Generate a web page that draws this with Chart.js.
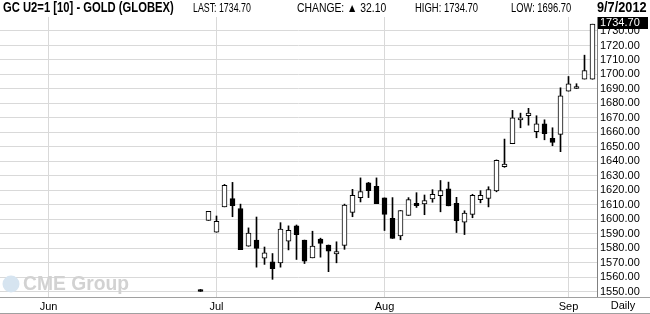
<!DOCTYPE html>
<html>
<head>
<meta charset="utf-8">
<script src="https://cdn.jsdelivr.net/npm/chart.js@4/dist/chart.umd.min.js"></script>
<style>
  body { margin: 0; background: #fff; }
  #wrap { position: relative; width: 650px; height: 314px; overflow: hidden; }
  #chart { position: absolute; left: 0; top: 0; }
  .hd { position: absolute; top: 1px; font-family: "Liberation Sans", Arial, sans-serif; font-size: 12px;
        line-height: 15px; white-space: nowrap; transform-origin: 0 0; color: #000; }
  .hd.b { font-weight: bold; font-size: 14px; top: 0; }
</style>
</head>
<body>
<div id="wrap">
  <canvas id="chart" width="650" height="314"></canvas>
  <span class="hd b" id="hTitle"></span>
  <span class="hd" id="hLast"></span>
  <span class="hd" id="hChange"></span>
  <span class="hd" id="hHigh"></span>
  <span class="hd" id="hLow"></span>
  <span class="hd b" id="hDate"></span>
</div>
<script>
"use strict";

// trading sessions on the axis (Jun 1 .. Sep 7 2012)
const sessions = [
    "6/1", "6/4", "6/5", "6/6", "6/7", "6/8", "6/11", "6/12", "6/13", "6/14", "6/15",
    "6/18", "6/19", "6/20", "6/21", "6/22", "6/25", "6/26", "6/27", "6/28", "6/29",
    "7/2", "7/3", "7/5", "7/6", "7/9", "7/10", "7/11", "7/12", "7/13",
    "7/16", "7/17", "7/18", "7/19", "7/20", "7/23", "7/24", "7/25", "7/26", "7/27",
    "7/30", "7/31",
    "8/1", "8/2", "8/3", "8/6", "8/7", "8/8", "8/9", "8/10", "8/13", "8/14", "8/15",
    "8/16", "8/17", "8/20", "8/21", "8/22", "8/23", "8/24", "8/27", "8/28", "8/29",
    "8/30", "8/31",
    "9/4", "9/5", "9/6", "9/7"
];

const monthLabels = ["Jun", "Jul", "Aug", "Sep"];
const monthFirstDays = ["6/1", "7/2", "8/1", "9/4"];
const priceTicks = [1550, 1560, 1570, 1580, 1590, 1600, 1610, 1620, 1630, 1640,
    1650, 1660, 1670, 1680, 1690, 1700, 1710, 1720, 1730];

// candles
const dates = [
    "6/28", "6/29", "7/2", "7/3", "7/5", "7/6", "7/9", "7/10", "7/11", "7/12", "7/13",
    "7/16", "7/17", "7/18", "7/19", "7/20", "7/23", "7/24", "7/25", "7/26", "7/27",
    "7/30", "7/31", "8/1", "8/2", "8/3", "8/6", "8/7", "8/8", "8/9", "8/10",
    "8/13", "8/14", "8/15", "8/16", "8/17", "8/20", "8/21", "8/22", "8/23", "8/24",
    "8/27", "8/28", "8/29", "8/30", "8/31", "9/4", "9/5", "9/6", "9/7"
];
const opens = [
    1551.6, 1599.3, 1591.1, 1608.6, 1614.3, 1607.5, 1581.4, 1585.7, 1573.2, 1570.7, 1570.0,
    1585.0, 1595.5, 1585.7, 1573.4, 1586.4, 1582.3, 1576.1, 1582.0, 1604.8, 1615.0,
    1625.2, 1622.7, 1614.8, 1600.7, 1588.6, 1602.7, 1611.1, 1610.7, 1614.1, 1616.4,
    1621.1, 1611.1, 1598.0, 1603.4, 1613.6, 1614.4, 1619.6, 1636.3, 1652.2, 1668.7,
    1671.5, 1660.5, 1666.0, 1655.9, 1658.6, 1688.5, 1690.3, 1696.8, 1696.7
];
const highs = [
    1551.6, 1605.5, 1602.3, 1624.1, 1625.5, 1610.5, 1594.1, 1601.6, 1580.9, 1576.4, 1597.7,
    1595.5, 1596.1, 1585.7, 1591.8, 1587.0, 1582.3, 1584.5, 1610.5, 1620.7, 1628.6,
    1625.5, 1628.6, 1614.8, 1615.0, 1606.1, 1615.0, 1618.4, 1616.8, 1620.5, 1626.8,
    1625.7, 1615.2, 1605.9, 1617.3, 1619.8, 1622.5, 1641.0, 1655.4, 1675.2, 1673.3,
    1676.6, 1671.5, 1668.7, 1663.2, 1690.8, 1698.6, 1693.6, 1713.3, 1734.7
];
const lows = [
    1550.3, 1599.3, 1591.1, 1608.6, 1601.8, 1579.1, 1581.4, 1567.0, 1568.9, 1558.6, 1567.0,
    1578.9, 1572.3, 1569.5, 1573.4, 1573.9, 1563.9, 1570.0, 1579.3, 1601.8, 1612.0,
    1615.0, 1610.9, 1592.3, 1586.8, 1585.9, 1602.7, 1608.2, 1603.2, 1611.8, 1605.2,
    1609.3, 1590.9, 1589.5, 1601.1, 1611.4, 1608.6, 1619.0, 1635.9, 1652.2, 1663.2,
    1665.0, 1656.3, 1654.9, 1650.8, 1646.7, 1688.5, 1690.3, 1696.8, 1696.7
];
const closes = [
    1550.3, 1605.5, 1598.6, 1623.4, 1609.5, 1579.1, 1590.5, 1580.0, 1576.8, 1565.9, 1593.2,
    1592.5, 1589.5, 1571.1, 1581.6, 1583.4, 1578.0, 1577.7, 1609.8, 1616.6, 1619.1,
    1619.8, 1610.9, 1603.4, 1586.8, 1606.1, 1613.6, 1609.5, 1613.0, 1617.3, 1619.8,
    1609.3, 1599.1, 1604.3, 1616.6, 1616.6, 1620.6, 1640.8, 1638.2, 1670.1, 1670.1,
    1673.3, 1666.0, 1659.1, 1653.1, 1685.3, 1693.6, 1691.7, 1702.6, 1734.7
];

const FONT = '"Liberation Sans", Arial, sans-serif';
const GRID = "#d9d9d9";
const last = closes.length - 1;

// header texts
function fit(id, text, left, width) {
    const el = document.getElementById(id);
    el.textContent = text;
    el.style.left = left + "px";
    el.style.transform = "scaleX(" + width / el.offsetWidth + ")";
}
fit("hTitle", "GC U2=1 [10] - GOLD (GLOBEX)", 3, 171);
fit("hLast", "LAST: " + closes[last].toFixed(2), 193, 58);
fit("hChange", "CHANGE: \u25B2 " + (closes[last] - closes[last - 1]).toFixed(2), 297, 89);
fit("hHigh", "HIGH: " + highs[last].toFixed(2), 415, 63);
fit("hLow", "LOW: " + lows[last].toFixed(2), 511, 60);
fit("hDate", "9/7/2012", 597, 50);

const decor = {
    id: "decor",
    beforeDatasetsDraw(chart) {
        const c = chart.ctx;
        const b = chart.chartArea.bottom;
        c.save();
        // CME Group watermark
        c.fillStyle = "#d6e4f0";
        c.beginPath();
        c.arc(11, b - 13, 8.5, 0, Math.PI * 2);
        c.fill();
        c.fillStyle = "#d2d2d2";
        c.font = "bold 20px " + FONT;
        c.textBaseline = "alphabetic";
        const w = c.measureText("CME Group").width;
        c.translate(23, b - 7);
        c.scale(106 / w, 1);
        c.fillText("CME Group", 0, 0);
        c.restore();
    },
    afterDraw(chart) {
        const c = chart.ctx;
        const a = chart.chartArea;
        const y = chart.scales.y;
        c.save();
        c.strokeStyle = "#a0a0a0";
        c.lineWidth = 1;
        c.beginPath();
        c.moveTo(a.right, Math.round(a.bottom) + 0.5);
        c.lineTo(chart.width, Math.round(a.bottom) + 0.5);
        c.moveTo(0, chart.height - 0.5);
        c.lineTo(chart.width, chart.height - 0.5);
        c.stroke();

        c.fillStyle = "#000";
        c.font = "11px " + FONT;
        c.textAlign = "center";
        c.textBaseline = "middle";
        c.fillText("Daily", 623, a.bottom + 9);

        // last price box
        const py = Math.round(y.getPixelForValue(closes[last]));
        c.fillStyle = "#000";
        c.fillRect(a.right + 1, py - 7, 50, 12);
        c.fillStyle = "#fff";
        c.textAlign = "left";
        c.fillText(closes[last].toFixed(2), a.right + 3, py - 1);
        c.restore();
    }
};

const xMin = -6.0625;
const xMax = 68.5625;

new Chart(document.getElementById("chart").getContext("2d"), {
    type: "bar",
    data: {
        datasets: [
            {
                label: "body",
                data: dates.map((d, i) => ({ x: sessions.indexOf(d), y: [opens[i], closes[i]] })),
                backgroundColor: ctx => (closes[ctx.dataIndex] < opens[ctx.dataIndex] ? "#000" : "#fff"),
                borderColor: "#000",
                borderWidth: 1,
                borderSkipped: false,
                barThickness: 5,
                grouped: false,
                order: 0
            },
            {
                label: "wick",
                data: dates.map((d, i) => ({ x: sessions.indexOf(d), y: [lows[i], highs[i]] })),
                backgroundColor: "#000",
                borderWidth: 0,
                barThickness: 1,
                grouped: false,
                order: 1
            }
        ]
    },
    options: {
        responsive: false,
        animation: false,
        devicePixelRatio: 1,
        layout: { padding: { top: 17, left: 0, right: 0, bottom: 0 } },
        plugins: { legend: { display: false }, tooltip: { enabled: false } },
        scales: {
            x: {
                type: "linear",
                min: xMin,
                max: xMax,
                offset: false,
                grid: { color: GRID, drawTicks: false, offset: false },
                border: { color: "#a0a0a0" },
                ticks: {
                    autoSkip: false,
                    maxRotation: 0,
                    padding: 3,
                    color: "#000",
                    font: { family: FONT, size: 11 },
                    callback: v => monthLabels[monthFirstDays.map(d => sessions.indexOf(d)).indexOf(v)]
                },
                afterBuildTicks: s => {
                    s.ticks = monthFirstDays.map(d => ({ value: sessions.indexOf(d) }));
                },
                afterFit: s => {
                    s.height = 17;
                }
            },
            y: {
                position: "right",
                min: 1546.4,
                max: 1739.65,
                grid: { color: GRID, drawTicks: false },
                border: { color: "#808080" },
                ticks: {
                    autoSkip: false,
                    padding: 3,
                    color: "#000",
                    font: { family: FONT, size: 11 },
                    callback: v => v.toFixed(2)
                },
                afterBuildTicks: s => {
                    s.ticks = priceTicks.map(v => ({ value: v }));
                },
                afterFit: s => {
                    s.width = 53;
                }
            }
        }
    },
    plugins: [decor]
});
</script>
</body>
</html>
